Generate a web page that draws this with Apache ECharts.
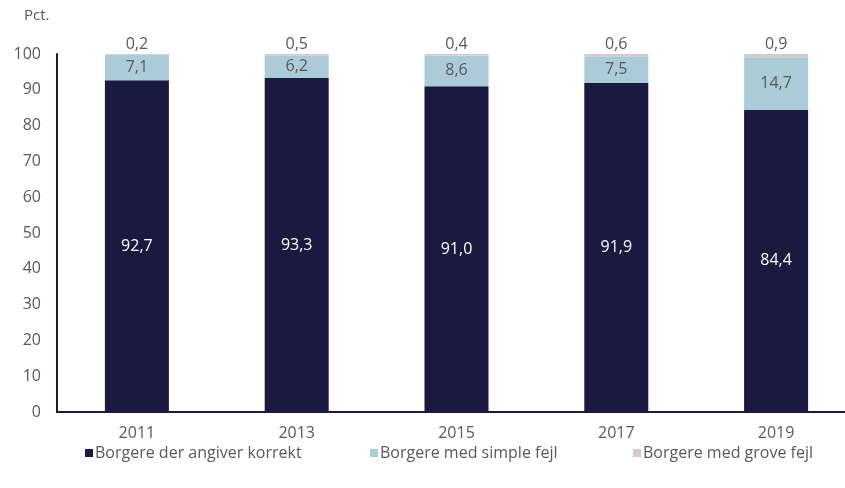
<!DOCTYPE html>
<html>
<head>
<meta charset="utf-8">
<script src="https://cdn.jsdelivr.net/npm/echarts@6/dist/echarts.min.js"></script>
<style>
	html, body { margin: 0; padding: 0; background: #fff; }
	#chart { width: 845px; height: 488px; }
</style>
</head>
<body>
<div id="chart"></div>
<script>
var years = ['2011', '2013', '2015', '2017', '2019'];
var korrekt = [92.7, 93.3, 91.0, 91.9, 84.4];
var simple = [7.1, 6.2, 8.6, 7.5, 14.7];
var grove = [0.2, 0.5, 0.4, 0.6, 0.9];
var seriesNames = ['Borgere der angiver korrekt', 'Borgere med simple fejl', 'Borgere med grove fejl'];

(function () {
	var font = '"Open Sans", "Noto Sans", sans-serif';
	var grey = '#595959';
	var navy = '#181a3f';
	var fmt = function (p) {
		return p.value.toFixed(1).replace('.', ',');
	};
	var myChart = echarts.init(document.getElementById('chart'));
	var option = {
		animation: false,
		color: [navy, '#abcbd9', '#d6c9ca'],
		textStyle: { fontFamily: font },
		grid: {
			left: 57,
			width: 799,
			top: 54,
			bottom: 76,
			containLabel: false,
			outerBoundsMode: 'none'
		},
		graphic: [{
			type: 'text',
			left: 24,
			top: 8,
			style: { text: 'Pct.', fill: grey, font: '15px ' + font }
		}],
		legend: [
			{ data: [seriesNames[0]], left: 80, top: 440 },
			{ data: [seriesNames[1]], left: 365, top: 440 },
			{ data: [seriesNames[2]], left: 628, top: 440 }
		].map(function (l) {
			l.itemWidth = 8;
			l.itemHeight = 8;
			l.icon = 'rect';
			l.itemGap = 4;
			l.textStyle = { color: grey, fontSize: 16, fontFamily: font, padding: [0, 0, 0, -3] };
			return l;
		}),
		xAxis: {
			type: 'category',
			data: years,
			axisTick: { show: false },
			axisLine: { lineStyle: { color: navy, width: 2 } },
			axisLabel: { color: grey, fontSize: 16, margin: 13 }
		},
		yAxis: {
			type: 'value',
			min: 0,
			max: 100,
			interval: 10,
			splitLine: { show: false },
			axisLine: { show: true, lineStyle: { color: navy, width: 2 } },
			axisLabel: { color: grey, fontSize: 16, margin: 16 }
		},
		series: [
			{
				name: seriesNames[0],
				type: 'bar',
				stack: 'total',
				barWidth: 64,
				data: korrekt,
				label: { show: true, position: 'inside', color: '#fff', fontSize: 16, formatter: fmt }
			},
			{
				name: seriesNames[1],
				type: 'bar',
				stack: 'total',
				barWidth: 64,
				data: simple,
				label: { show: true, position: 'inside', color: grey, fontSize: 16, formatter: fmt }
			},
			{
				name: seriesNames[2],
				type: 'bar',
				stack: 'total',
				barWidth: 64,
				data: grove,
				label: { show: true, position: 'top', distance: 2, color: grey, fontSize: 16, formatter: fmt }
			}
		]
	};
	myChart.setOption(option);
	window.addEventListener('resize', function () {
		myChart.resize();
	});
})();
</script>
</body>
</html>
